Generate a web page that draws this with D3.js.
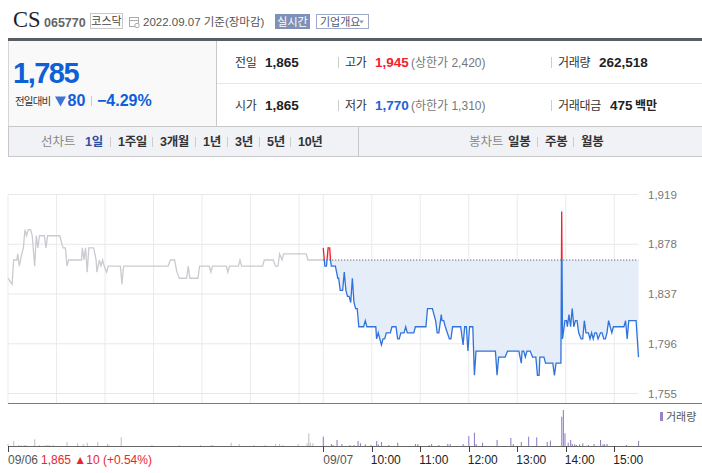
<!DOCTYPE html>
<html>
<head>
<meta charset="utf-8">
<script src="https://cdn.jsdelivr.net/npm/d3@7"></script>
<style>
body { margin: 0; background: #fff; }
svg { display: block; font-family: "Liberation Sans", "Noto Sans CJK KR", sans-serif; }
</style>
</head>
<body>
<svg id="chart" width="702" height="473"></svg>
<script>
"use strict";

var prevClose = 1865,
    yTicks = [1919, 1878, 1837, 1796, 1755],
    gridHours = ["09:00", "10:00", "11:00", "12:00", "13:00", "14:00", "15:00"],
    timeTicks = ["10:00", "11:00", "12:00", "13:00", "14:00", "15:00"],
    dayLabels = ["09/06", "09/07"],
    prevDayChange = "1,865 \u25B210 (+0.54%)";

// 09/06, one point per change in the minute line
var prevDayPrice = [
    ["09:00", 1850], ["09:05", 1845], ["09:07", 1865], ["09:11", 1865], ["09:12", 1870],
    ["09:14", 1860], ["09:17", 1870], ["09:19", 1875], ["09:21", 1890], ["09:23", 1885],
    ["09:25", 1890], ["09:28", 1890], ["09:30", 1885], ["09:33", 1860], ["09:35", 1885],
    ["09:37", 1875], ["09:39", 1885], ["09:45", 1885], ["09:47", 1875], ["09:49", 1885],
    ["10:04", 1885], ["10:08", 1875], ["10:11", 1875], ["10:13", 1860], ["10:15", 1865],
    ["10:31", 1865], ["10:32", 1875], ["10:34", 1865], ["10:36", 1875], ["10:38", 1855],
    ["10:40", 1875], ["10:46", 1875], ["10:49", 1865], ["10:50", 1855], ["10:53", 1865],
    ["10:55", 1860], ["10:57", 1865], ["10:59", 1860], ["11:02", 1855], ["11:04", 1860],
    ["11:19", 1860], ["11:21", 1845], ["11:23", 1860], ["12:18", 1860], ["12:21", 1865],
    ["12:26", 1865], ["12:29", 1855], ["12:32", 1850], ["12:41", 1850], ["12:43", 1860],
    ["12:45", 1850], ["12:55", 1850], ["12:57", 1860], ["13:09", 1860], ["13:11", 1855],
    ["13:13", 1860], ["13:30", 1860], ["13:32", 1855], ["13:34", 1860], ["13:45", 1860],
    ["13:47", 1865], ["13:49", 1860], ["14:15", 1860], ["14:17", 1865], ["14:28", 1865],
    ["14:31", 1860], ["14:34", 1860], ["14:36", 1870], ["14:39", 1865], ["14:41", 1870],
    ["15:09", 1870], ["15:11", 1865], ["15:30", 1865]
];

// 09/07
var todayPrice = [
    ["09:00", 1875], ["09:02", 1860], ["09:04", 1860], ["09:06", 1875], ["09:08", 1875],
    ["09:09", 1865], ["09:10", 1860], ["09:15", 1860], ["09:18", 1850], ["09:19", 1850],
    ["09:21", 1840], ["09:24", 1840], ["09:26", 1855], ["09:28", 1840], ["09:30", 1835],
    ["09:32", 1835], ["09:34", 1830], ["09:36", 1850], ["09:38", 1830], ["09:40", 1825],
    ["09:42", 1825], ["09:44", 1810], ["09:50", 1810], ["09:52", 1815], ["09:54", 1810],
    ["10:05", 1810], ["10:06", 1800], ["10:08", 1805], ["10:10", 1800], ["10:12", 1795],
    ["10:14", 1800], ["10:16", 1800], ["10:18", 1805], ["10:23", 1805], ["10:25", 1810],
    ["10:30", 1810], ["10:32", 1800], ["10:34", 1800], ["10:36", 1805], ["10:40", 1805],
    ["10:42", 1810], ["10:44", 1805], ["10:52", 1805], ["10:54", 1810], ["11:07", 1810],
    ["11:09", 1825], ["11:15", 1825], ["11:17", 1820], ["11:19", 1815], ["11:21", 1805],
    ["11:23", 1805], ["11:26", 1820], ["11:27", 1815], ["11:29", 1815], ["11:31", 1810],
    ["11:36", 1800], ["11:38", 1800], ["11:40", 1810], ["11:50", 1810], ["11:52", 1800],
    ["11:53", 1795], ["11:55", 1810], ["11:57", 1810], ["11:59", 1790], ["12:01", 1810],
    ["12:05", 1810], ["12:07", 1770], ["12:09", 1790], ["12:33", 1790], ["12:35", 1770],
    ["12:37", 1785], ["12:45", 1785], ["12:48", 1790], ["13:02", 1790], ["13:05", 1780],
    ["13:06", 1790], ["13:08", 1790], ["13:10", 1785], ["13:12", 1790], ["13:16", 1790],
    ["13:19", 1785], ["13:23", 1785], ["13:25", 1770], ["13:27", 1770], ["13:28", 1785],
    ["13:33", 1785], ["13:35", 1780], ["13:44", 1780], ["13:46", 1770], ["13:48", 1780],
    ["13:54", 1780], ["13:55", 1905], ["13:56", 1800], ["13:59", 1815], ["14:01", 1815],
    ["14:02", 1810], ["14:04", 1820], ["14:06", 1810], ["14:08", 1825], ["14:10", 1810],
    ["14:12", 1815], ["14:14", 1815], ["14:16", 1805], ["14:19", 1800], ["14:21", 1800],
    ["14:23", 1815], ["14:25", 1805], ["14:28", 1805], ["14:30", 1800], ["14:32", 1805],
    ["14:34", 1800], ["14:36", 1805], ["14:38", 1805], ["14:40", 1800], ["14:43", 1805],
    ["14:45", 1805], ["14:47", 1800], ["14:49", 1800], ["14:51", 1805], ["14:53", 1815],
    ["14:55", 1810], ["14:57", 1805], ["14:59", 1810], ["15:12", 1810], ["15:14", 1815],
    ["15:16", 1800], ["15:18", 1815], ["15:27", 1815], ["15:30", 1785]
];

var prevDayVolume = [
    ["09:00", 2000], ["09:07", 5000], ["09:13", 1000], ["09:16", 1000], ["09:20", 1000],
    ["09:22", 1000], ["09:33", 6700], ["09:39", 1000], ["09:46", 1000], ["09:49", 1000],
    ["09:51", 1000], ["09:56", 1000], ["10:13", 4000], ["10:26", 2700], ["10:33", 2000],
    ["10:38", 3300], ["10:51", 4000], ["11:03", 2000], ["11:05", 1000], ["11:20", 8700],
    ["11:58", 1000], ["12:32", 1000], ["12:58", 1000], ["13:11", 1000], ["13:13", 1000],
    ["13:36", 3300], ["13:46", 2000], ["14:04", 1000], ["14:18", 1000], ["14:31", 2000],
    ["14:36", 2000], ["14:40", 1000], ["14:59", 2000], ["15:10", 2700], ["15:12", 12700],
    ["15:14", 3300], ["15:17", 2700]
];

var todayVolume = [
    ["09:00", 9300], ["09:10", 2000], ["09:12", 1000], ["09:17", 6000], ["09:23", 2000],
    ["09:33", 1000], ["09:38", 1000], ["09:43", 5000], ["09:46", 2700], ["09:52", 1700],
    ["09:59", 1000], ["10:06", 5000], ["10:08", 1700], ["10:12", 4000], ["10:21", 1000],
    ["10:32", 3300], ["10:54", 2000], ["10:57", 2000], ["11:11", 1000], ["11:14", 2000],
    ["11:23", 1000], ["11:34", 2000], ["11:37", 2000], ["11:53", 2000], ["12:00", 10000],
    ["12:07", 13300], ["12:09", 2000], ["12:17", 3300], ["12:35", 6000], ["12:52", 8000],
    ["12:55", 2000], ["13:05", 4000], ["13:14", 9300], ["13:24", 8700], ["13:37", 4000],
    ["13:41", 5300], ["13:55", 29300], ["13:57", 36000], ["13:59", 12700], ["14:03", 3300],
    ["14:06", 6000], ["14:08", 2000], ["14:11", 1700], ["14:13", 1000], ["14:17", 1700],
    ["14:21", 2700], ["14:28", 1000], ["14:35", 2000], ["14:43", 6000], ["14:46", 1700],
    ["14:48", 1700], ["14:51", 2000], ["15:15", 1000], ["15:30", 5000]
];

var svg = d3.select("#chart"),
    fmt = d3.format(","),
    red = "#f2222b",
    blue = "#2f72dc",
    plotLeft = 8,
    plotRight = 638.5,
    plotTop = 194.5,
    plotBottom = 403,
    volBottom = 446;

// minutes since 09/06 09:00, each session counted as 390 minutes
var toMin = function(day, hhmm) {
    var p = hhmm.split(":");
    return day * 390 + (+p[0] - 9) * 60 + (+p[1]);
};

var asPoints = function(rows, day) {
    return rows.map(function(r) {
        return { t: toMin(day, r[0]), v: r[1] };
    });
};

var prevPts = asPoints(prevDayPrice, 0),
    todayPts = asPoints(todayPrice, 1);

var x = d3.scaleLinear().domain([0, 780]).range([plotLeft, plotRight]),
    y = d3.scaleLinear().domain([1755, 1919]).range([393.5, plotTop]),
    vy = d3.scaleLinear().domain([0, 43000]).range([volBottom, plotBottom]);

var addText = function(g, tx, ty, str, size, fill, weight) {
    return g.append("text")
        .attr("x", tx)
        .attr("y", ty)
        .attr("font-size", size)
        .attr("fill", fill)
        .attr("font-weight", weight || "normal")
        .text(str);
};

var vline = function(g, lx, y1, y2, colour) {
    g.append("line")
        .attr("x1", lx).attr("x2", lx)
        .attr("y1", y1).attr("y2", y2)
        .attr("stroke", colour);
};

/* ---------- header ---------- */
var head = svg.append("g");

addText(head, 13, 27, "CS", 22.5, "#1d1d2b")
    .attr("font-family", "Liberation Serif");
addText(head, 44, 27, "065770", 12.5, "#666", "bold");

head.append("rect")
    .attr("x", 90.5).attr("y", 13.5).attr("width", 32).attr("height", 15)
    .attr("fill", "#fff").attr("stroke", "#c8c8c8");
addText(head, 106.5, 25, "코스닥", 11, "#444").attr("text-anchor", "middle");

// calendar icon
var cal = head.append("g").attr("stroke", "#aaa").attr("fill", "none");
cal.append("rect").attr("x", 129.5).attr("y", 17.5).attr("width", 9).attr("height", 9);
cal.append("line").attr("x1", 129.5).attr("x2", 138.5).attr("y1", 20.5).attr("y2", 20.5);
cal.append("circle").attr("cx", 137).attr("cy", 25.5).attr("r", 2.2).attr("fill", "#fff");

addText(head, 143, 26, "2022.09.07 기준(장마감)", 11.5, "#555");

head.append("rect")
    .attr("x", 275).attr("y", 14).attr("width", 35).attr("height", 15)
    .attr("fill", "#8091b9");
addText(head, 292.5, 25.5, "실시간", 11, "#fff").attr("text-anchor", "middle");

head.append("rect")
    .attr("x", 316.5).attr("y", 14.5).attr("width", 52).attr("height", 14)
    .attr("fill", "#fff").attr("stroke", "#9eaacb");
addText(head, 320, 25.5, "기업개요", 11, "#4b5a86");
head.append("path")
    .attr("d", "M359,20.5h5l-2.5,3z")
    .attr("fill", "#999");

/* ---------- price summary ---------- */
var info = svg.append("g");

info.append("rect")
    .attr("x", plotLeft).attr("y", 38).attr("width", 702 - plotLeft).attr("height", 3)
    .attr("fill", "#5a5f66");
info.append("rect")
    .attr("x", plotLeft).attr("y", 41).attr("width", 208).attr("height", 85)
    .attr("fill", "#f9f9f9");
vline(info, 8.5, 41, 126, "#d6d6d6");
vline(info, 216.5, 41, 126, "#c8c8c8");
info.append("line")
    .attr("x1", 217).attr("x2", 702).attr("y1", 83.5).attr("y2", 83.5)
    .attr("stroke", "#e6e6e6");

addText(info, 13, 83, "1,785", 29, "#0f5fd7", "bold")
    .attr("letter-spacing", -1.5);
addText(info, 15, 105, "전일대비", 10.5, "#333").attr("letter-spacing", -0.8);
info.append("path")
    .attr("d", "M55,96.5h11l-5.5,10z")
    .attr("fill", "#3f73d8");
addText(info, 67.5, 106, "80", 16, "#0f5fd7", "bold");
vline(info, 91.5, 96, 106, "#ccc");
addText(info, 97, 106, "\u22124.29%", 16, "#0f5fd7", "bold");

var rows = [
    { yy: 67, cells: [
        { lx: 235, label: "전일", value: "1,865", colour: "#222" },
        { lx: 345, label: "고가", value: "1,945", colour: red, extra: "(상한가 2,420)" },
        { lx: 558, label: "거래량", value: "262,518", colour: "#222", vx: 599 }
    ] },
    { yy: 110, cells: [
        { lx: 235, label: "시가", value: "1,865", colour: "#222" },
        { lx: 345, label: "저가", value: "1,770", colour: "#1a63dc", extra: "(하한가 1,310)" },
        { lx: 558, label: "거래대금", value: "475", colour: "#222", vx: 610, unit: "백만" }
    ] }
];

rows.forEach(function(row) {
    row.cells.forEach(function(c) {
        if (c.lx > 300) {
            vline(info, c.lx - 6.5, row.yy - 10, row.yy + 1, "#ccc");
        }
        addText(info, c.lx, row.yy, c.label, 12, "#333").attr("letter-spacing", -0.3);
        addText(info, c.vx || c.lx + 30, row.yy, c.value, 13.5, c.colour, "bold");
        if (c.extra) {
            addText(info, c.lx + 66, row.yy, c.extra, 12, "#777");
        }
        if (c.unit) {
            addText(info, 635, row.yy, c.unit, 12, "#222", "bold");
        }
    });
});

/* ---------- period tabs ---------- */
var tabs = svg.append("g");

tabs.append("rect")
    .attr("x", 8.5).attr("y", 126.5).attr("width", 694).attr("height", 30)
    .attr("fill", "#f1f2f6").attr("stroke", "#c8c8c8");
vline(tabs, 358.5, 127, 156, "#c8c8c8");

var lineTabs = [["1일", 85], ["1주일", 118], ["3개월", 160], ["1년", 203],
                ["3년", 235], ["5년", 267], ["10년", 298]],
    candleTabs = [["일봉", 508], ["주봉", 545], ["월봉", 581]];

addText(tabs, 41, 146, "선차트", 12.5, "#888");
addText(tabs, 469, 146, "봉차트", 12.5, "#888");

[lineTabs, candleTabs].forEach(function(list) {
    list.forEach(function(t, i) {
        if (i > 0) {
            vline(tabs, t[1] - 7.5, 137, 147, "#ccc");
        }
        addText(tabs, t[1], 146, t[0], 12.5, t[0] === "1일" ? "#2d4e9e" : "#333", "bold")
            .attr("letter-spacing", -0.3);
    });
});

/* ---------- price chart ---------- */
var plot = svg.append("g");

var gridTimes = [];
[0, 1].forEach(function(day) {
    gridHours.forEach(function(h) { gridTimes.push(toMin(day, h)); });
});

plot.selectAll("line.vgrid")
    .data(gridTimes)
    .enter().append("line")
    .attr("class", "vgrid")
    .attr("x1", function(d) { return x(d); })
    .attr("x2", function(d) { return x(d); })
    .attr("y1", plotTop)
    .attr("y2", plotBottom)
    .attr("stroke", "#ebebeb");

plot.selectAll("line.hgrid")
    .data(yTicks)
    .enter().append("line")
    .attr("class", "hgrid")
    .attr("x1", plotLeft)
    .attr("x2", plotRight)
    .attr("y1", function(d) { return y(d); })
    .attr("y2", function(d) { return y(d); })
    .attr("stroke", "#e8e8e8");

plot.selectAll("text.ylab")
    .data(yTicks)
    .enter().append("text")
    .attr("class", "ylab")
    .attr("x", 648)
    .attr("y", function(d) { return y(d) + 4; })
    .attr("font-size", 11.5)
    .attr("fill", "#777")
    .text(function(d) { return fmt(d); });

var base = y(prevClose),
    todayStart = x(toMin(1, "09:00")),
    defs = svg.append("defs");

defs.append("clipPath").attr("id", "above")
    .append("rect")
    .attr("x", todayStart - 2).attr("y", plotTop - 40)
    .attr("width", plotRight - todayStart + 4).attr("height", base - plotTop + 40);
defs.append("clipPath").attr("id", "below")
    .append("rect")
    .attr("x", todayStart - 2).attr("y", base)
    .attr("width", plotRight - todayStart + 4).attr("height", plotBottom - base);

var area = d3.area()
        .x(function(d) { return x(d.t); })
        .y0(base)
        .y1(function(d) { return y(d.v); }),
    line = d3.line()
        .x(function(d) { return x(d.t); })
        .y(function(d) { return y(d.v); });

plot.append("path")
    .datum(todayPts)
    .attr("d", area)
    .attr("fill", "#e5edf9")
    .attr("clip-path", "url(#below)");
plot.append("path")
    .datum(todayPts)
    .attr("d", area)
    .attr("fill", "#fde6e6")
    .attr("clip-path", "url(#above)");

plot.append("path")
    .datum(prevPts)
    .attr("d", line)
    .attr("fill", "none")
    .attr("stroke", "#c9cbd0")
    .attr("stroke-width", 1.3);

plot.append("line")
    .attr("x1", todayStart).attr("x2", plotRight)
    .attr("y1", base).attr("y2", base)
    .attr("stroke", "#444")
    .attr("stroke-dasharray", "1,2");

plot.append("path")
    .datum(todayPts)
    .attr("d", line)
    .attr("fill", "none")
    .attr("stroke", blue)
    .attr("stroke-width", 1.3)
    .attr("clip-path", "url(#below)");
plot.append("path")
    .datum(todayPts)
    .attr("d", line)
    .attr("fill", "none")
    .attr("stroke", red)
    .attr("stroke-width", 1.3)
    .attr("clip-path", "url(#above)");

plot.append("line")
    .attr("x1", plotLeft).attr("x2", 702)
    .attr("y1", plotBottom + 0.5).attr("y2", plotBottom + 0.5)
    .attr("stroke", "#7a7a7a");

/* ---------- volume ---------- */
var vol = svg.append("g");

var bars = function(rows, day, colour) {
    vol.selectAll(null)
        .data(rows)
        .enter().append("rect")
        .attr("x", function(d) { return x(toMin(day, d[0])) - 0.5; })
        .attr("y", function(d) { return vy(d[1]); })
        .attr("width", 1.1)
        .attr("height", function(d) { return volBottom - vy(d[1]); })
        .attr("fill", colour);
};

bars(prevDayVolume, 0, "#c4c4c4");
bars(todayVolume, 1, "#9583c9");

vol.append("line")
    .attr("x1", plotLeft).attr("x2", 702)
    .attr("y1", volBottom + 0.5).attr("y2", volBottom + 0.5)
    .attr("stroke", "#666");

vol.append("rect")
    .attr("x", 660).attr("y", 412).attr("width", 3).attr("height", 9)
    .attr("fill", "#9583c9");
addText(vol, 666, 421, "거래량", 11, "#555");

var axisTicks = [toMin(0, "09:00"), toMin(1, "09:00")].concat(
    timeTicks.map(function(t) { return toMin(1, t); }));

vol.selectAll("line.tick")
    .data(axisTicks)
    .enter().append("line")
    .attr("class", "tick")
    .attr("x1", function(d) { return Math.round(x(d)) + 0.5; })
    .attr("x2", function(d) { return Math.round(x(d)) + 0.5; })
    .attr("y1", volBottom)
    .attr("y2", volBottom + 6)
    .attr("stroke", "#444");

vol.selectAll("text.tlab")
    .data(timeTicks)
    .enter().append("text")
    .attr("class", "tlab")
    .attr("x", function(d) { return x(toMin(1, d)) - 1; })
    .attr("y", 464)
    .attr("font-size", 12)
    .attr("fill", "#222")
    .text(function(d) { return d; });

dayLabels.forEach(function(d, i) {
    addText(vol, x(toMin(i, "09:00")), 464, d, 12, "#555");
});
addText(vol, 41, 464, prevDayChange, 12, "#e8262e");
</script>
</body>
</html>
